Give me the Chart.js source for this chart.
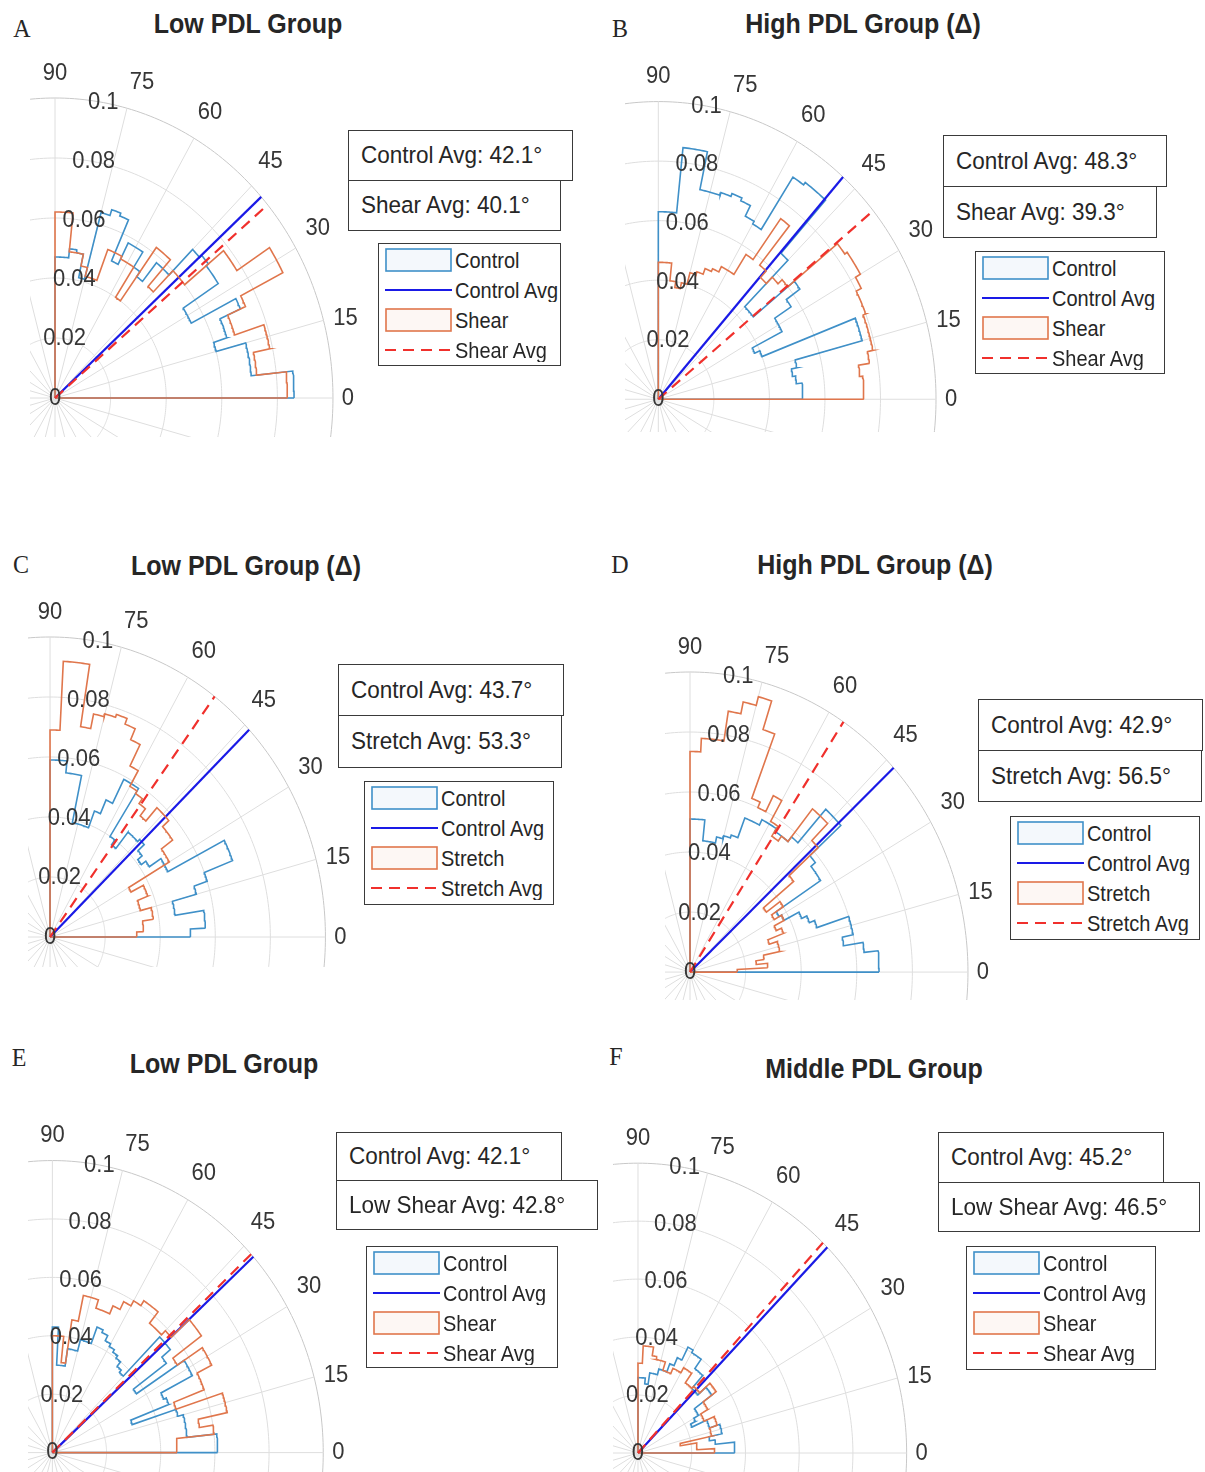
<!DOCTYPE html>
<html>
<head>
<meta charset="utf-8">
<title>PDL polar histograms</title>
<script src="https://cdn.jsdelivr.net/npm/chart.js@4.4.1/dist/chart.umd.min.js"></script>
<style>
  body { margin: 0; background: #fff; }
  #fig { position: relative; width: 1205px; height: 1472px; overflow: hidden;
         font-family: 'Liberation Sans', Arial, Helvetica, sans-serif; color: #262626; }
  canvas { position: absolute; }
  .title { position: absolute; font-size: 25px; font-weight: bold; white-space: nowrap;
           transform: translate(-50%, -50%) scaleY(1.08); }
  .letter { position: absolute; font-family: 'Liberation Serif', 'Times New Roman', serif;
            font-size: 24px; transform: translate(-50%, -50%) scaleY(1.08); }
  .box { position: absolute; box-sizing: border-box; border: 1.5px solid #3a3a3a; background: #fff;
         font-size: 22.5px; padding-left: 12px; line-height: 1; display: flex; align-items: center;
         white-space: nowrap; z-index: 2; }
  .box span, .legend span { display: inline-block; transform: scaleY(1.08); }
  .legend { position: absolute; box-sizing: border-box; border: 1.5px solid #3a3a3a; background: #fff; z-index: 2; }
  .legend .item { position: absolute; left: 0; right: 0; height: 30px; font-size: 20px; line-height: 30px; white-space: nowrap; }
  .legend .item span { position: absolute; top: 0; }
  .legend svg { position: absolute; top: 0; }
</style>
</head>
<body>
<div id="fig"></div>
<script>
// angle / radius ticks of the polar axes
const angleTicks = [0, 15, 30, 45, 60, 75, 90];
const radiusTicks = [0, 0.02, 0.04, 0.06, 0.08, 0.1];
const binWidth = 3; // degrees per histogram bin, 0..90

const panelLetters = ['A', 'B', 'C', 'D', 'E', 'F'];
const panelTitles = ['Low PDL Group', 'High PDL Group (\u0394)', 'Low PDL Group (\u0394)',
                     'High PDL Group (\u0394)', 'Low PDL Group', 'Middle PDL Group'];
const treatedNames = ['Shear', 'Shear', 'Stretch', 'Stretch', 'Shear', 'Shear'];
const treatedAvgNames = ['Shear Avg', 'Shear Avg', 'Stretch Avg', 'Stretch Avg', 'Low Shear Avg', 'Low Shear Avg'];
const controlAvg = [42.1, 48.3, 43.7, 42.9, 42.1, 45.2];
const treatedAvg = [40.1, 39.3, 53.3, 56.5, 42.8, 46.5];

// probability per 3 degree bin (0-3, 3-6, ... 87-90)
const controlA = [.086, .086, .071, .071, .071, .060, .065, .065, .073, .055, .055, .070, .070, .071, .070,
                  .058, .058, .050, .052, .058, .058, .050, .065, .066, .064, .041, .049, .050, .047, .047];
const shearA = [.0836, .0836, .073, .073, .079, .079, .068, .068, .075, .092, .092, .078, .078, .060, .060,
                .050, .062, .062, .040, .052, .052, .053, .053, .042, .042, .045, .049, .049, .062, .062];

const controlB = [.052, .052, .050, .049, .051, .076, .076, .040, .038, .050, .050, .057, .063, .044, .044,
                  .066, .090, .090, .089, .068, .069, .073, .074, .073, .072, .072, .085, .085, .063, .063];
const shearB = [.074, .074, .073, .077, .079, .079, .079, .080, .080, .082, .084, .084, .083, .060, .058,
                .055, .058, .075, .058, .050, .050, .048, .047, .045, .044, .040, .038, .040, .046, .046];

const controlC = [.051, .0565, .0565, .046, .046, .055, .060, .071, .071, .048, .048, .043, .041, .043, .046,
                  .045, .045, .038, .040, .059, .059, .050, .045, .039, .039, .039, .055, .055, .059, .059];
const stretchC = [.0315, .034, .034, .038, .038, .034, .034, .038, .038, .033, .050, .050, .055, .055, .058,
                  .058, .052, .055, .057, .058, .064, .072, .076, .078, .077, .076, .071, .092, .092, .069];

const controlD = [.068, .068, .063, .056, .060, .060, .048, .046, .044, .038, .037, .056, .056, .058, .073,
                  .073, .058, .056, .056, .057, .057, .055, .055, .048, .047, .046, .044, .044, .051, .051];
const stretchD = [.017, .028, .024, .027, .033, .033, .030, .036, .034, .038, .035, .040, .034, .048, .062,
                  .070, .070, .056, .054, .058, .066, .060, .062, .085, .095, .092, .088, .078, .078, .0735];

const controlE = [.061, .061, .050, .050, .050, .048, .031, .046, .045, .058, .058, .037, .052, .056, .056,
                  .037, .038, .040, .041, .042, .043, .045, .046, .040, .040, .036, .036, .030, .030, .043];
const shearE = [.046, .046, .060, .055, .066, .066, .048, .060, .060, .066, .066, .055, .068, .068, .059,
                .057, .057, .062, .062, .060, .058, .055, .052, .052, .055, .055, .046, .031, .040, .040];

const controlF = [.036, .036, .029, .027, .032, .032, .028, .028, .022, .024, .026, .026, .034, .034, .030,
                  .030, .036, .036, .040, .040, .041, .036, .033, .030, .030, .028, .028, .024, .026, .026];
const shearF = [.0285, .022, .022, .016, .028, .028, .031, .031, .027, .027, .030, .030, .036, .036, .031,
                .031, .030, .030, .034, .034, .032, .032, .030, .030, .033, .033, .034, .037, .037, .031];

const controlBins = [controlA, controlB, controlC, controlD, controlE, controlF];
const treatedBins = [shearA, shearB, stretchC, stretchD, shearE, shearF];

// page geometry: polar origin (px), px per 0.1, visible lower/left limits, boxes
const layout = [
  {ox: 55, oy: 398, kx: 278, ky: 300, xmin: -0.009, ymin: -0.013, title: [248, 24], letter: [22, 29],
   box1: [348, 130, 225, 51], box2: [348, 180, 213, 51], legend: [378, 243, 183, 123]},
  {ox: 658, oy: 400, kx: 278, ky: 298, xmin: -0.012, ymin: -0.011, title: [863, 24], letter: [620, 29],
   box1: [943, 135, 224, 52], box2: [943, 186, 214, 52], legend: [975, 251, 190, 123]},
  {ox: 50, oy: 937, kx: 275, ky: 300, xmin: -0.008, ymin: -0.010, title: [246, 566], letter: [21, 565],
   box1: [338, 664, 226, 52], box2: [338, 715, 224, 53], legend: [364, 781, 190, 124]},
  {ox: 690, oy: 972, kx: 278, ky: 300, xmin: -0.009, ymin: -0.0093, title: [875, 565], letter: [620, 565],
   box1: [978, 699, 225, 52], box2: [978, 750, 224, 52], legend: [1010, 816, 190, 124]},
  {ox: 52, oy: 1453, kx: 271, ky: 292, xmin: -0.009, ymin: -0.02, title: [224, 1064], letter: [19, 1058],
   box1: [336, 1132, 226, 49], box2: [336, 1180, 262, 50], legend: [366, 1246, 192, 122]},
  {ox: 638, oy: 1453, kx: 269, ky: 290, xmin: -0.0093, ymin: -0.02, title: [874, 1069], letter: [616, 1057],
   box1: [938, 1132, 226, 51], box2: [938, 1182, 262, 50], legend: [966, 1246, 190, 124]},
];
const xmax = 0.118, ymax = 0.118;

const blue = '#3f90c8';
const orange = '#e0764c';
const avgBlue = '#1a1ae6';
const avgRed = '#f0302c';
const labelShift = {0: [15, 0], 15: [22, -2], 30: [22, -20], 45: [19, -24], 60: [16, -26], 75: [15, -26], 90: [0, -25]};

const rMax = radiusTicks[radiusTicks.length - 1];
const rad = d => d * Math.PI / 180;

function stairs(values) {
  const pts = [{x: 0, y: 0}];
  values.forEach((r, i) => {
    for (let k = 0; k <= 6; k++) {
      const a = rad((i + k / 6) * binWidth);
      pts.push({x: r * Math.cos(a), y: r * Math.sin(a)});
    }
  });
  pts.push({x: 0, y: 0});
  return pts;
}

function ray(deg) {
  return [{x: 0, y: 0}, {x: rMax * Math.cos(rad(deg)), y: rMax * Math.sin(rad(deg))}];
}

function drawText(ctx, s, x, y) {
  ctx.save();
  ctx.translate(x, y);
  ctx.scale(1, 1.08);
  ctx.fillText(s, 0, 0);
  ctx.restore();
}

const polarAxes = {
  id: 'polarAxes',
  beforeDatasetsDraw(chart) {
    const {ctx, scales: {x, y}} = chart;
    const px = (r, a) => x.getPixelForValue(r * Math.cos(rad(a)));
    const py = (r, a) => y.getPixelForValue(r * Math.sin(rad(a)));
    ctx.save();
    ctx.lineWidth = 1;
    radiusTicks.slice(1).forEach(r => {
      ctx.beginPath();
      for (let a = 0; a <= 360; a += 1) {
        if (a === 0) ctx.moveTo(px(r, a), py(r, a));
        else ctx.lineTo(px(r, a), py(r, a));
      }
      ctx.strokeStyle = r === rMax ? '#c8c8c8' : '#dedede';
      ctx.stroke();
    });
    for (let a = 0; a < 360; a += 15) {
      ctx.beginPath();
      ctx.moveTo(px(0, a), py(0, a));
      ctx.lineTo(px(rMax, a), py(rMax, a));
      ctx.strokeStyle = '#dedede';
      ctx.stroke();
    }
    ctx.restore();
  },
  afterDatasetsDraw(chart) {
    const {ctx, scales: {x, y}} = chart;
    ctx.save();
    ctx.font = '22px "Liberation Sans", Arial, sans-serif';
    ctx.fillStyle = '#363636';
    ctx.textAlign = 'center';
    ctx.textBaseline = 'middle';
    angleTicks.forEach(a => {
      const [dx, dy] = labelShift[a];
      drawText(ctx, String(a),
        x.getPixelForValue(rMax * Math.cos(rad(a))) + dx,
        y.getPixelForValue(rMax * Math.sin(rad(a))) + dy);
    });
    radiusTicks.forEach(r => {
      drawText(ctx, String(r),
        x.getPixelForValue(r * Math.cos(rad(80))),
        y.getPixelForValue(r * Math.sin(rad(80))));
    });
    ctx.restore();
  }
};

const fig = document.getElementById('fig');

function addDiv(cls, html, left, top, w, h) {
  const d = document.createElement('div');
  d.className = cls;
  d.innerHTML = html;
  d.style.left = left + 'px';
  d.style.top = top + 'px';
  if (w !== undefined) { d.style.width = w + 'px'; d.style.height = h + 'px'; }
  fig.appendChild(d);
  return d;
}

function addLegend(p) {
  const [lx, ly, lw, lh] = layout[p].legend;
  const leg = addDiv('legend', '', lx, ly, lw, lh);
  const items = [
    {kind: 'rect', color: blue, fill: 'rgba(63,144,200,0.06)', text: 'Control'},
    {kind: 'line', color: avgBlue, text: 'Control Avg'},
    {kind: 'rect', color: orange, fill: 'rgba(224,118,76,0.06)', text: treatedNames[p]},
    {kind: 'dash', color: avgRed, text: treatedNames[p] + ' Avg'},
  ];
  items.forEach((it, i) => {
    let sym;
    if (it.kind === 'rect') {
      sym = `<rect x="1" y="4" width="65" height="22" fill="${it.fill}" stroke="${it.color}" stroke-width="1.6"/>`;
    } else {
      sym = `<line x1="0" y1="15" x2="67" y2="15" stroke="${it.color}" stroke-width="2"` +
            (it.kind === 'dash' ? ' stroke-dasharray="11 7"' : '') + '/>';
    }
    const row = document.createElement('div');
    row.className = 'item';
    row.style.top = (1 + 30 * i) + 'px';
    row.innerHTML = `<svg width="68" height="30" style="left:6px">${sym}</svg><span style="left:76px">${it.text}</span>`;
    leg.appendChild(row);
  });
}

layout.forEach((g, p) => {
  const kx = g.kx * 10, ky = g.ky * 10;
  const canvas = document.createElement('canvas');
  canvas.width = Math.round((xmax - g.xmin) * kx);
  canvas.height = Math.round((ymax - g.ymin) * ky);
  canvas.style.left = (g.ox + g.xmin * kx) + 'px';
  canvas.style.top = (g.oy - ymax * ky) + 'px';
  fig.appendChild(canvas);

  const line = {showLine: true, pointRadius: 0, pointHoverRadius: 0, fill: false, tension: 0};
  new Chart(canvas, {
    type: 'scatter',
    data: {
      datasets: [
        {...line, label: 'Control', data: stairs(controlBins[p]), borderColor: blue, borderWidth: 1.6, order: 3},
        {...line, label: 'Control Avg', data: ray(controlAvg[p]), borderColor: avgBlue, borderWidth: 2.2, order: 2},
        {...line, label: treatedNames[p], data: stairs(treatedBins[p]), borderColor: orange, borderWidth: 1.6, order: 1},
        {...line, label: treatedNames[p] + ' Avg', data: ray(treatedAvg[p]), borderColor: avgRed,
         borderWidth: 2.2, borderDash: [11, 7], order: 0},
      ],
    },
    options: {
      responsive: false,
      animation: false,
      devicePixelRatio: 1,
      events: [],
      layout: {padding: 0},
      plugins: {legend: {display: false}, tooltip: {enabled: false}},
      scales: {
        x: {type: 'linear', min: g.xmin, max: xmax, display: false},
        y: {type: 'linear', min: g.ymin, max: ymax, display: false},
      },
    },
    plugins: [polarAxes],
  });

  addDiv('title', panelTitles[p], g.title[0], g.title[1]);
  addDiv('letter', panelLetters[p], g.letter[0], g.letter[1]);
  const [b1x, b1y, b1w, b1h] = g.box1;
  const [b2x, b2y, b2w, b2h] = g.box2;
  addDiv('box', `<span>Control Avg: ${controlAvg[p].toFixed(1)}\u00b0</span>`, b1x, b1y, b1w, b1h);
  addDiv('box', `<span>${treatedAvgNames[p]}: ${treatedAvg[p].toFixed(1)}\u00b0</span>`, b2x, b2y, b2w, b2h);
  addLegend(p);
});
</script>
</body>
</html>
